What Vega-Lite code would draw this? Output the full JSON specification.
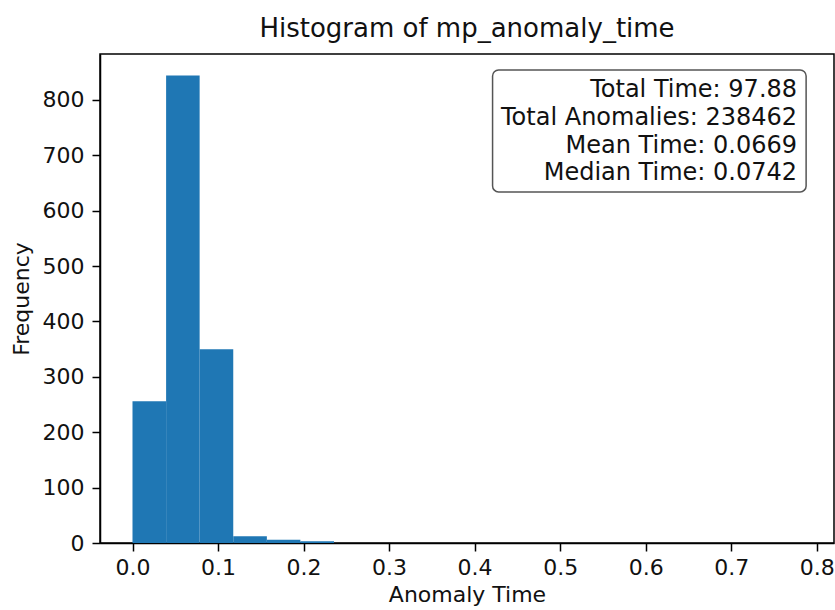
{
  "$schema": "https://vega.github.io/schema/vega-lite/v6.json",
  "width": 734,
  "height": 489,
  "autosize": "none",
  "padding": {"left": 100, "top": 54, "right": 1, "bottom": 67},
  "background": "white",
  "title": {
    "text": "Histogram of mp_anomaly_time",
    "font": "DejaVu Sans",
    "fontSize": 26,
    "fontWeight": "normal",
    "color": "#111111",
    "anchor": "middle",
    "baseline": "bottom",
    "offset": 8,
    "dy": 22
  },
  "config": {
    "view": {"stroke": "black", "strokeWidth": 1.5},
    "axis": {
      "grid": false,
      "labelFont": "DejaVu Sans",
      "titleFont": "DejaVu Sans",
      "labelFontSize": 22,
      "titleFontSize": 22,
      "titleFontWeight": "normal",
      "labelColor": "#111111",
      "titleColor": "#111111",
      "tickColor": "black",
      "domainColor": "black",
      "tickSize": 8,
      "tickWidth": 1.5,
      "domainWidth": 1.5
    }
  },
  "datasets": {
    "bins": [
      {"bin_start": 0.0, "bin_end": 0.0393, "count": 256},
      {"bin_start": 0.0393, "bin_end": 0.0785, "count": 844},
      {"bin_start": 0.0785, "bin_end": 0.1178, "count": 350},
      {"bin_start": 0.1178, "bin_end": 0.1571, "count": 12},
      {"bin_start": 0.1571, "bin_end": 0.1963, "count": 6},
      {"bin_start": 0.1963, "bin_end": 0.2356, "count": 3},
      {"bin_start": 0.2356, "bin_end": 0.2749, "count": 0},
      {"bin_start": 0.2749, "bin_end": 0.3142, "count": 0},
      {"bin_start": 0.3142, "bin_end": 0.3534, "count": 0},
      {"bin_start": 0.3534, "bin_end": 0.3927, "count": 0},
      {"bin_start": 0.3927, "bin_end": 0.432, "count": 0},
      {"bin_start": 0.432, "bin_end": 0.4712, "count": 0},
      {"bin_start": 0.4712, "bin_end": 0.5105, "count": 0},
      {"bin_start": 0.5105, "bin_end": 0.5498, "count": 0},
      {"bin_start": 0.5498, "bin_end": 0.589, "count": 0},
      {"bin_start": 0.589, "bin_end": 0.6283, "count": 0},
      {"bin_start": 0.6283, "bin_end": 0.6676, "count": 0},
      {"bin_start": 0.6676, "bin_end": 0.7069, "count": 0},
      {"bin_start": 0.7069, "bin_end": 0.7461, "count": 0},
      {"bin_start": 0.7461, "bin_end": 0.7854, "count": 0}
    ],
    "box": [
      {"x1": 0.421, "x2": 0.7876, "y1": 634, "y2": 854}
    ],
    "stats": [
      {"label": "Total Time: 97.88", "x": 0.777, "y": 805},
      {"label": "Total Anomalies: 238462", "x": 0.777, "y": 755},
      {"label": "Mean Time: 0.0669", "x": 0.777, "y": 705},
      {"label": "Median Time: 0.0742", "x": 0.777, "y": 655}
    ]
  },
  "layer": [
    {
      "data": {"name": "bins"},
      "mark": {"type": "rect", "color": "#1f77b4"},
      "encoding": {
        "x": {
          "field": "bin_start",
          "type": "quantitative",
          "title": "Anomaly Time",
          "scale": {"domain": [-0.038, 0.8202], "nice": false, "zero": false},
          "axis": {
            "values": [0, 0.1, 0.2, 0.3, 0.4, 0.5, 0.6, 0.7, 0.8],
            "format": ".1f",
            "labelPadding": 6,
            "titlePadding": 6
          }
        },
        "x2": {"field": "bin_end"},
        "y": {
          "field": "count",
          "type": "quantitative",
          "title": "Frequency",
          "scale": {"domain": [0, 883], "nice": false},
          "axis": {
            "values": [0, 100, 200, 300, 400, 500, 600, 700, 800],
            "labelPadding": 8,
            "titlePadding": 9
          }
        },
        "y2": {"datum": 0}
      }
    },
    {
      "data": {"name": "box"},
      "mark": {"type": "rect", "fill": "white", "stroke": "#555555", "strokeWidth": 1.5, "cornerRadius": 6},
      "encoding": {
        "x": {"field": "x1", "type": "quantitative", "title": "Anomaly Time"},
        "x2": {"field": "x2"},
        "y": {"field": "y1", "type": "quantitative", "title": "Frequency"},
        "y2": {"field": "y2"}
      }
    },
    {
      "data": {"name": "stats"},
      "mark": {"type": "text", "align": "right", "baseline": "alphabetic", "font": "DejaVu Sans", "fontSize": 24, "color": "#111111"},
      "encoding": {
        "x": {"field": "x", "type": "quantitative", "title": "Anomaly Time"},
        "y": {"field": "y", "type": "quantitative", "title": "Frequency"},
        "text": {"field": "label"}
      }
    }
  ]
}
